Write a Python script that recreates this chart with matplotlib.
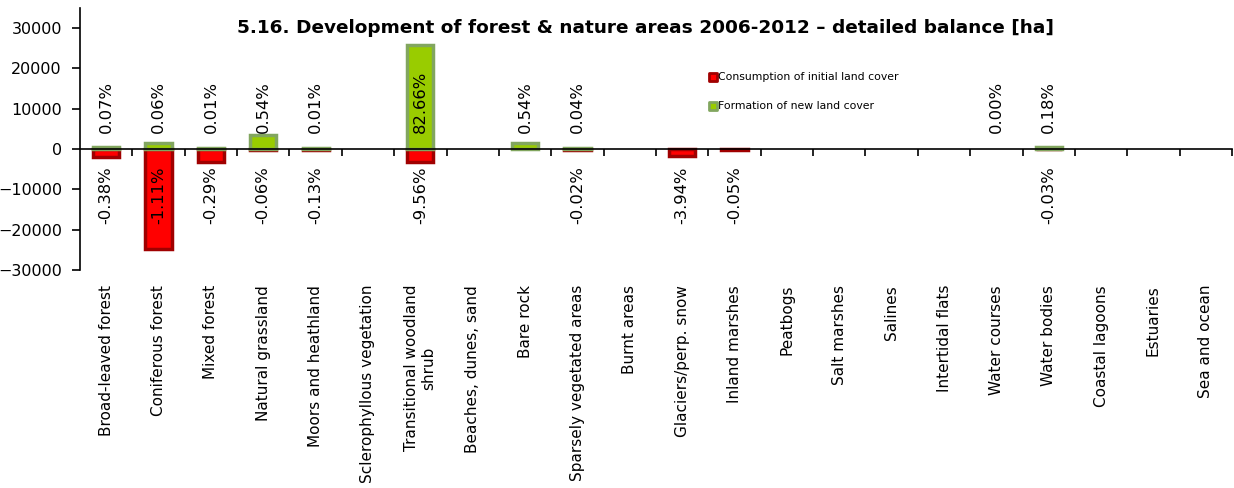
import numpy as np
import matplotlib
matplotlib.use('Agg')
import matplotlib.pyplot as plt
from matplotlib.transforms import blended_transform_factory

# --- data (ha) ---
categories = ['Broad-leaved forest', 'Coniferous forest', 'Mixed forest', 'Natural grassland',
              'Moors and heathland', 'Sclerophyllous vegetation', 'Transitional woodland\nshrub',
              'Beaches, dunes, sand', 'Bare rock', 'Sparsely vegetated areas', 'Burnt areas',
              'Glaciers/perp. snow', 'Inland marshes', 'Peatbogs', 'Salt marshes', 'Salines',
              'Intertidal flats', 'Water courses', 'Water bodies', 'Coastal lagoons', 'Estuaries',
              'Sea and ocean']
consumption = [-1900, -24800, -3300, -200, -200, 0, -3300, 0, 0, -200, 0,
               -1600, -300, 0, 0, 0, 0, 0, -100, 0, 0, 0]
formation = [600, 1600, 300, 3500, 300, 0, 25800, 0, 1600, 300, 0,
             0, 0, 0, 0, 0, 0, 0, 400, 0, 0, 0]
formation_pct = ['0.07%', '0.06%', '0.01%', '0.54%', '0.01%', '', '82.66%', '', '0.54%', '0.04%', '',
                 '', '', '', '', '', '', '0.00%', '0.18%', '', '', '']
consumption_pct = ['-0.38%', '-1.11%', '-0.29%', '-0.06%', '-0.13%', '', '-9.56%', '', '', '-0.02%', '',
                   '-3.94%', '-0.05%', '', '', '', '', '', '-0.03%', '', '', '']

x = np.arange(len(categories))

fig = plt.figure(figsize=(12.34, 4.88), dpi=100)
ax = fig.add_axes([0.0648, 0.4467, 0.9336, 0.5369])

red_face, red_edge = '#FF0000', '#A00000'
green_face, green_edge = '#99CC00', '#82A65F'

idx_c = [i for i, v in enumerate(consumption) if v != 0]
idx_f = [i for i, v in enumerate(formation) if v != 0]
ax.bar(x[idx_c], [consumption[i] for i in idx_c], width=0.5, color=red_face,
       edgecolor=red_edge, linewidth=2.5, zorder=2)
ax.bar(x[idx_f], [formation[i] for i in idx_f], width=0.5, color=green_face,
       edgecolor=green_edge, linewidth=2.5, zorder=2)

# percentage labels
for i in range(len(categories)):
    if formation_pct[i]:
        ax.text(x[i], 4000, formation_pct[i], rotation=90, ha='center', va='bottom',
                fontsize=11.8, zorder=3)
    if consumption_pct[i]:
        ax.text(x[i], -4300, consumption_pct[i], rotation=90, ha='center', va='top',
                fontsize=11.8, zorder=3)

ax.set_xlim(-0.5, len(categories) - 0.5)
ax.set_ylim(-30000, 35000)
ax.set_yticks(np.arange(-30000, 30001, 10000))
ax.tick_params(axis='y', labelsize=11.5, length=6, width=1.2, pad=7)
ax.spines['left'].set_bounds(-30000, 35000)
ax.spines['left'].set_linewidth(1.2)
ax.spines['top'].set_visible(False)
ax.spines['right'].set_visible(False)
ax.spines['bottom'].set_position(('data', 0))
ax.spines['bottom'].set_linewidth(1.2)
ax.set_xticks(np.arange(0.5, len(categories), 1.0))
ax.set_xticklabels([])
ax.tick_params(axis='x', length=5, width=1.2, direction='out')

trans = blended_transform_factory(ax.transData, ax.transAxes)
for i, name in enumerate(categories):
    ax.text(x[i], -0.057, name, rotation=90, ha='center', va='top', fontsize=11,
            transform=trans, multialignment='center')

fig.text(0.523, 0.943, '5.16. Development of forest & nature areas 2006-2012 \u2013 detailed balance [ha]',
         fontsize=13.3, fontweight='bold', ha='center', va='center')

# legend
ax.scatter([], [], marker='s', s=40, color=red_face, edgecolors=red_edge, linewidths=2,
           label='Consumption of initial land cover')
ax.scatter([], [], marker='s', s=40, color=green_face, edgecolors=green_edge, linewidths=2,
           label='Formation of new land cover')
ax.legend(loc='upper left', bbox_to_anchor=(0.54, 0.777), frameon=False, fontsize=7.8,
          handletextpad=0.0, labelspacing=1.75, handlelength=1.0, borderpad=0)

fig.savefig('out.png', dpi=100)
